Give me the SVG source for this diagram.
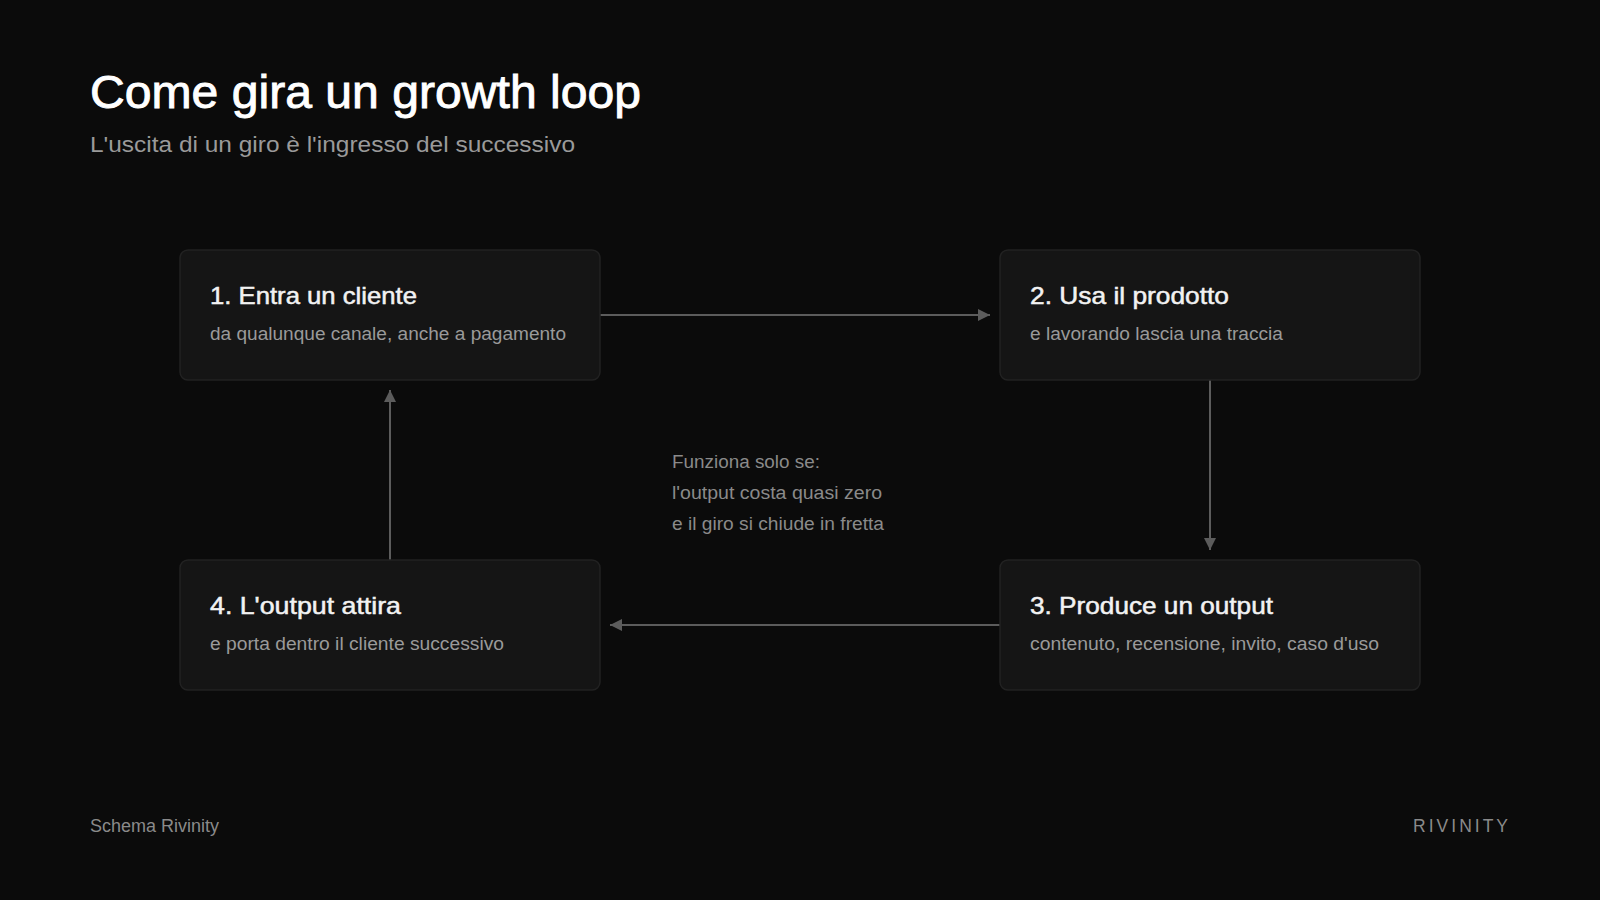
<svg xmlns="http://www.w3.org/2000/svg" width="1600" height="900" viewBox="0 0 1600 900">
<defs>
<marker id="arr" markerWidth="12" markerHeight="12" refX="10" refY="5" orient="auto" markerUnits="userSpaceOnUse" viewBox="0 0 10 10">
<path d="M0,0 L10,5 L0,10 z" fill="#5c5c5c"/>
</marker>
</defs>
<style>
text{font-family:"Liberation Sans",Arial,sans-serif}
.box{fill:#151515;stroke:#222;stroke-width:1.5}
.nt{fill:#f2f2f2;font-size:24px;stroke:#f2f2f2;stroke-width:0.5px}
.ns{fill:#9a9a9a;font-size:17.5px}
.c{stroke:#5c5c5c;stroke-width:2;fill:none;marker-end:url(#arr)}
.note{fill:#8a8a8a;font-size:18px}
</style>
<rect width="1600" height="900" fill="#0b0b0b"/>
<text x="90" y="108" font-size="47" fill="#ffffff" stroke="#ffffff" stroke-width="0.9" textLength="551" lengthAdjust="spacingAndGlyphs">Come gira un growth loop</text>
<text x="90" y="152" font-size="22" fill="#9a9a9a" textLength="485" lengthAdjust="spacingAndGlyphs">L'uscita di un giro è l'ingresso del successivo</text>
<g id="connectors">
<line class="c" x1="600" y1="315" x2="990" y2="315"/>
<line class="c" x1="1210" y1="380" x2="1210" y2="550"/>
<line class="c" x1="1000" y1="625" x2="610" y2="625"/>
<line class="c" x1="390" y1="560" x2="390" y2="390"/>
</g>
<g id="node1">
<rect class="box" x="180" y="250" width="420" height="130" rx="8"/>
<text class="nt" x="210" y="304" textLength="207" lengthAdjust="spacingAndGlyphs">1. Entra un cliente</text>
<text class="ns" x="210" y="340" textLength="356" lengthAdjust="spacingAndGlyphs">da qualunque canale, anche a pagamento</text>
</g>
<g id="node2">
<rect class="box" x="1000" y="250" width="420" height="130" rx="8"/>
<text class="nt" x="1030" y="304" textLength="199" lengthAdjust="spacingAndGlyphs">2. Usa il prodotto</text>
<text class="ns" x="1030" y="340" textLength="253" lengthAdjust="spacingAndGlyphs">e lavorando lascia una traccia</text>
</g>
<g id="node3">
<rect class="box" x="1000" y="560" width="420" height="130" rx="8"/>
<text class="nt" x="1030" y="614" textLength="243" lengthAdjust="spacingAndGlyphs">3. Produce un output</text>
<text class="ns" x="1030" y="650" textLength="349" lengthAdjust="spacingAndGlyphs">contenuto, recensione, invito, caso d'uso</text>
</g>
<g id="node4">
<rect class="box" x="180" y="560" width="420" height="130" rx="8"/>
<text class="nt" x="210" y="614" textLength="191" lengthAdjust="spacingAndGlyphs">4. L'output attira</text>
<text class="ns" x="210" y="650" textLength="294" lengthAdjust="spacingAndGlyphs">e porta dentro il cliente successivo</text>
</g>
<g id="note">
<text class="note" x="672" y="468" textLength="148" lengthAdjust="spacingAndGlyphs">Funziona solo se:</text>
<text class="note" x="672" y="499" textLength="210" lengthAdjust="spacingAndGlyphs">l'output costa quasi zero</text>
<text class="note" x="672" y="530" textLength="212" lengthAdjust="spacingAndGlyphs">e il giro si chiude in fretta</text>
</g>
<text x="90" y="832" font-size="17.5" fill="#8a8a8a" textLength="129" lengthAdjust="spacingAndGlyphs">Schema Rivinity</text>
<text x="1511" y="832" font-size="17.5" fill="#8a8a8a" text-anchor="end" letter-spacing="3">RIVINITY</text>
</svg>
